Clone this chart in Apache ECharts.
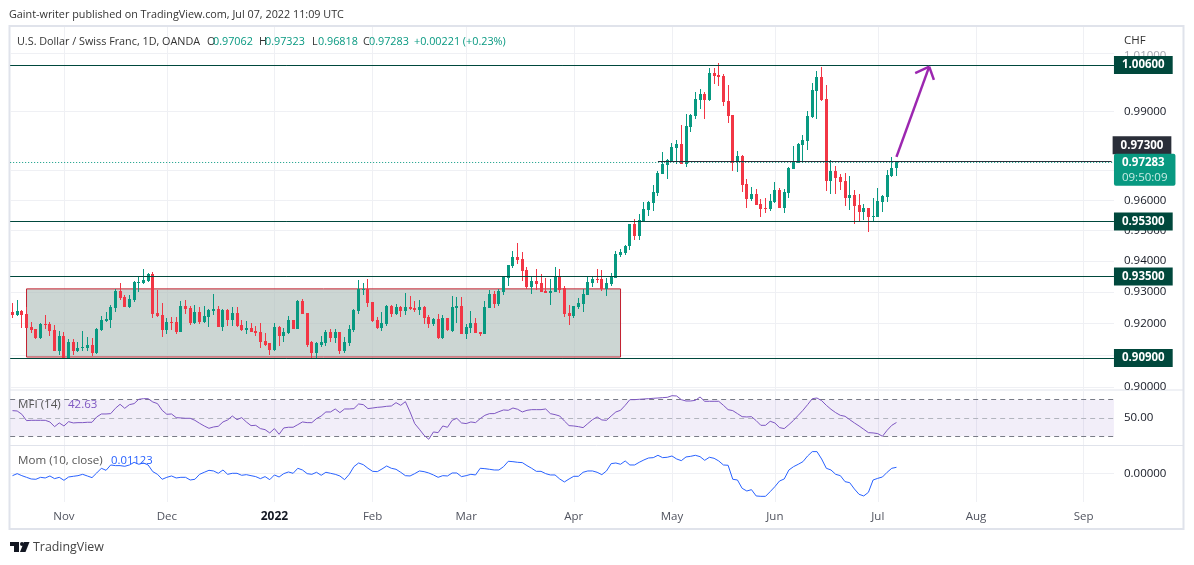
<!DOCTYPE html>
<html>
<head>
<meta charset="utf-8">
<title>USDCHF</title>
<script src="https://cdn.jsdelivr.net/npm/echarts@6/dist/echarts.min.js"></script>
<style>
    html, body {margin: 0; padding: 0; background: #fff;}
    #chart {width: 1194px; height: 565px;}
</style>
</head>
<body>
<div id="chart"></div>
<script>
const FONT = '"Open Sans", sans-serif';
const UP = '#089981', DOWN = '#f23645', LEVEL = '#00483c', GRID = '#eff0f4', FRAME = '#e0e3eb';

// open, close, low, high
let ohlc = [
    [.9236,.9226,.9218,.9264],[.9226,.9239,.9223,.9274],[.9239,.9226,.9184,.9242],[.9229,.9184,.9184,.9251],[.9187,.9178,.9169,.9203],
    [.9181,.9152,.9149,.9183],[.9152,.9197,.9149,.92],[.9197,.9194,.9181,.9226],[.9197,.9174,.9161,.9203],[.9178,.9113,.9113,.9194],
    [.9113,.9158,.91,.9174],[.9158,.9086,.9086,.9171],[.9086,.9142,.9086,.9149],[.9142,.9113,.91,.9149],[.9113,.9123,.911,.9142],
    [.912,.9126,.9113,.9174],[.9123,.9132,.9113,.9155],[.9132,.9107,.9097,.9152],[.9107,.9181,.9103,.9184],[.9178,.921,.9174,.9223],
    [.9207,.9213,.9203,.9236],[.921,.9252,.9184,.9258],[.9249,.9303,.9236,.931],[.9303,.9281,.9274,.9329],[.9284,.9252,.9252,.929],
    [.9252,.9278,.9249,.929],[.9274,.9332,.9268,.9336],[.933,.9332,.93,.9348],[.9329,.9339,.9326,.9374],[.9336,.9358,.9332,.9361],
    [.9358,.9229,.9216,.9365],[.9232,.9223,.9221,.9307],[.9226,.9178,.9155,.9265],[.9178,.9203,.9165,.9216],[.9203,.92,.9178,.9219],
    [.9203,.9171,.9165,.9219],[.9171,.9255,.9171,.9271],[.9255,.9245,.9229,.9274],[.9249,.92,.9194,.9255],[.92,.9236,.9197,.9258],
    [.9236,.9203,.9197,.9252],[.9203,.9223,.92,.9255],[.9219,.9242,.9187,.9245],[.9239,.9245,.9226,.9294],[.9245,.9187,.9187,.9255],
    [.9187,.9242,.9174,.9245],[.9242,.921,.919,.9245],[.921,.9232,.919,.9252],[.9232,.919,.9187,.9252],[.9194,.9178,.9174,.921],
    [.9178,.9184,.9165,.9207],[.9184,.9171,.9171,.92],[.9174,.9168,.9158,.919],[.9171,.9142,.9123,.92],[.9145,.9132,.9129,.9168],
    [.9136,.9116,.91,.9136],[.9116,.9187,.9113,.92],[.9187,.9158,.9129,.919],[.9158,.9171,.9139,.9184],[.9168,.921,.9165,.9223],
    [.921,.9181,.9181,.921],[.9181,.9272,.9181,.9274],[.9272,.9229,.9229,.9278],[.9232,.9132,.9126,.9232],[.9139,.9107,.909,.9145],
    [.9107,.9136,.909,.9139],[.9132,.9139,.9126,.9161],[.9136,.9171,.9129,.9178],[.9171,.9152,.9139,.9181],[.9152,.9171,.9136,.9181],
    [.9171,.9113,.9103,.9171],[.9113,.9139,.9107,.9155],[.9136,.9181,.9129,.9194],[.9178,.9242,.9171,.9245],[.9239,.931,.9229,.9339],
    [.9307,.931,.929,.9329],[.931,.9265,.9252,.9342],[.9268,.9207,.9203,.9268],[.921,.9184,.9181,.9219],[.9184,.92,.9174,.9236],
    [.9197,.9255,.919,.9258],[.9255,.9229,.9219,.9258],[.9229,.9252,.9226,.9261],[.9252,.9239,.9219,.9255],[.9239,.9252,.9226,.9297],
    [.9252,.9245,.9242,.9287],[.9249,.9242,.9236,.9271],[.9242,.9252,.9226,.9274],[.9252,.9216,.9197,.9255],[.9219,.9197,.9184,.9226],
    [.9197,.9213,.919,.9216],[.9213,.9152,.9149,.9229],[.9152,.9216,.9149,.9226],[.9216,.9178,.9174,.9216],[.9174,.9252,.9171,.9287],
    [.9249,.9255,.92,.9284],[.9255,.9165,.9165,.9283],[.9165,.9187,.9149,.9197],[.9184,.92,.9168,.9239],[.92,.9168,.9168,.9216],
    [.9171,.9165,.9161,.9171],[.9165,.9252,.9165,.9271],[.9249,.9294,.9249,.9307],[.9294,.9261,.9249,.9303],[.9261,.9303,.9255,.931],
    [.93,.9348,.929,.9348],[.9345,.9387,.9319,.9387],[.9384,.9413,.9378,.9432],[.9413,.9403,.939,.9458],[.9406,.9368,.9336,.9429],
    [.9371,.9316,.931,.9381],[.9316,.9336,.9294,.9352],[.9336,.9326,.9307,.9374],[.9329,.93,.93,.9358],[.9303,.9297,.9297,.9345],
    [.9297,.9303,.9258,.9342],[.93,.9348,.93,.9381],[.9348,.9307,.9297,.9374],[.9313,.9229,.9219,.9319],[.9232,.9223,.9194,.9258],
    [.9223,.9255,.9216,.9255],[.9252,.9265,.9245,.9281],[.9261,.9294,.9236,.931],[.929,.9332,.929,.9348],[.9329,.9342,.9316,.9348],
    [.9342,.9339,.9329,.9374],[.9342,.931,.9303,.9371],[.931,.9329,.9287,.9345],[.9326,.9348,.9319,.9361],[.9345,.9423,.9345,.9432],
    [.9419,.9429,.9413,.9439],[.9426,.9448,.9419,.9452],[.9448,.9521,.9436,.9523],[.9521,.9481,.9468,.9538],[.9481,.9535,.9468,.9554],
    [.9531,.9571,.9528,.9594],[.9568,.9594,.9548,.9598],[.9591,.9628,.9564,.9651],[.9624,.9691,.9614,.9698],[.9688,.9721,.9688,.9762],
    [.9718,.9735,.9671,.9738],[.9731,.9779,.9728,.9792],[.9775,.9789,.9721,.9803],[.9789,.9721,.9721,.9854],[.9721,.985,.9711,.9891],
    [.9847,.9888,.983,.9891],[.9884,.9943,.9874,.9967],[.9939,.996,.9908,.9977],[.996,.9939,.9874,.9967],[.9939,1.0032,.9936,1.005],
    [1.0032,1.0022,.9994,1.005],[1.0025,1.0019,.9987,1.0067],[1.0022,.9932,.9918,1.0029],[.9936,.9884,.986,.9991],[.9888,.9724,.9698,.9888],
    [.9728,.9748,.9694,.9765],[.9748,.9651,.9628,.9752],[.9654,.9604,.9574,.9671],[.9604,.9621,.9598,.9644],[.9621,.9584,.9584,.9638],
    [.9588,.9571,.9544,.9604],[.9574,.9571,.9558,.9608],[.9571,.9598,.9564,.9621],[.9594,.9634,.9591,.9661],[.9634,.9574,.9574,.9641],
    [.9574,.9628,.9558,.9638],[.9624,.9708,.9608,.9711],[.9704,.9728,.9704,.9782],[.9724,.9789,.9724,.9792],[.9786,.9803,.9724,.982],
    [.9799,.9884,.9769,.9901],[.9881,.9974,.9877,.9998],[.997,1.0019,.9874,1.0039],[1.0019,.9939,.9936,1.0053],[.9943,.9664,.9631,.9991],
    [.9664,.9698,.9621,.9735],[.9698,.9674,.9621,.9714],[.9678,.9661,.9634,.9688],[.9664,.9608,.9581,.9691],[.9608,.9618,.9568,.9681],
    [.9618,.9581,.9521,.9634],[.9584,.9561,.9528,.9621],[.9561,.9574,.9535,.9588],[.9574,.9544,.9495,.9574],[.9544,.9548,.9531,.9608],
    [.9544,.9598,.9544,.9641],[.9594,.9614,.9561,.9618],[.9611,.9684,.9594,.9701],[.9681,.9708,.9678,.9745],[.97062,.97283,.96818,.97323]
];
let mfi = [
    62.1,61.5,56.1,45.7,46.2,46.2,46.2,46.2,43.5,35.8,41.9,36.9,44,41.9,42.4,42.4,43,43,51.7,56.6,
    56.6,57.2,65.9,72.5,65.9,71.9,73.6,80.7,81.7,81.7,76.3,73.6,62.6,56.1,56.6,50.6,50.1,49.5,49.5,46.2,
    41.3,36.9,33.1,35.3,36.4,43.5,46.8,53.3,47.3,50.6,43.5,37.5,38,32.6,30.9,25.5,32.6,23.3,33.7,34.8,
    34.8,39.1,43.5,42.4,42.4,49,53.3,59.9,59.9,64.8,58.8,64.8,64.8,65.4,73,71.9,65.4,66.4,67.5,68.1,
    69.2,69.7,75.2,70.8,76.8,59.9,40.8,31.5,21.6,15.1,27.1,26,36.9,34.8,46.2,49.5,
    41.9,40.8,43.5,42.4,49,54.4,57.2,57.2,60.4,63.2,62.6,66.4,64.3,59.9,62.6,63.7,63.7,63.7,64.8,57.2,
    55.5,53.3,45.1,37.5,36.9,35.8,34.2,40.8,47.3,51.7,46.8,46.2,53.3,59.9,62.6,70.8,80.1,80.1,80.7,81.2,
    81.7,82.3,82.8,83.4,83.9,86.6,86.1,80.1,77.9,77.9,79,84.5,77.4,77.4,77.4,77.4,70.8,63.7,62.1,57.2,
    52.2,51.7,52.2,45.7,38,38,44.6,41.9,34.2,32.6,39.1,46.2,54.4,62.6,71.9,81.7,82.8,78.5,70.8,64.3,
    58.8,54.4,52.8,47.3,41.9,36.9,31.5,26,25.5,24.4,20,29.8,38,42.63
];
let mom = [
    -.0044,-.0006,-.0044,-.0075,-.0106,-.0112,-.0075,-.0087,-.005,-.01,-.0075,-.0131,-.0069,-.0056,-.0044,-.0019,-.005,-.0081,.0006,.0094,
    .0056,.0156,.0144,.0144,.0131,.0156,.0206,.0169,.0193,.0156,.0031,-.0019,-.0112,-.0075,-.005,-.0087,-.0075,-.0075,-.0125,-.0112,
    -.0019,.0019,.0056,.0044,0,.0062,-.0019,0,0,-.0037,-.0025,-.0044,-.0062,-.01,-.0062,-.0119,-.0031,-.0069,-.0006,.0025,
    0,.0094,.0062,-.0006,-.0019,.0019,-.0037,.0019,0,-.0019,-.005,-.0119,-.0019,.0125,.0193,.0162,.0094,.0037,.0031,.0081,
    .0137,.0094,.0075,.0019,-.0044,-.005,-.0006,.0044,.0031,.0006,-.0031,-.0075,-.0044,-.005,.0006,.0006,
    -.0062,-.0044,-.0019,-.0031,.0094,.0087,.0075,.0062,.0062,.0125,.0225,.0218,.0206,.02,.0144,.0094,.0037,.0037,-.0006,-.0031,
    -.0031,-.0106,-.0162,-.0106,-.0056,-.0056,.0019,.0044,.0044,.0019,-.0025,.0044,.0181,.0193,.0169,.0231,.0156,.0156,.0206,.025,
    .0287,.0293,.0337,.0293,.03,.0324,.0268,.0237,.0306,.0318,.0337,.0312,.0243,.03,.0281,.0231,.0156,.015,-.0112,-.0125,
    -.0281,-.0331,-.0306,-.0424,-.0431,-.0431,-.0343,-.025,-.0144,-.0106,.0062,.0125,.0169,.0218,.0324,.0406,.0406,.0268,.0094,.0062,
    -.0019,-.0044,-.0156,-.0175,-.0293,-.0393,-.0424,-.0356,-.0125,-.0094,-.0069,.0019,.0094,.01123
];

// weekday bars from 15 Oct 2021, the last 46 slots are empty future space
let dates = [];
let monthNames = {};
for (let d = new Date(Date.UTC(2021, 9, 15)), prev = 9; dates.length < 236; d.setUTCDate(d.getUTCDate() + 1)) {
    if (d.getUTCDay() === 0 || d.getUTCDay() === 6) continue;
    let key = d.toISOString().slice(0, 10);
    dates.push(key);
    if (d.getUTCMonth() !== prev) {
        prev = d.getUTCMonth();
        monthNames[key] = prev === 0 ? '2022' : ['', 'Feb', 'Mar', 'Apr', 'May', 'Jun', 'Jul', 'Aug', 'Sep', '', 'Nov', 'Dec'][prev];
    }
}
let monthLines = Object.keys(monthNames).map(function (k) {
    return {xAxis: k};
});
// precision: markLine rounds its values to 2 decimals otherwise
let noMarker = {symbol: 'none', silent: true, animation: false, precision: 5};
let empty = dates.map(function () { return '-'; });

function axisTick(value) {
    let label = {show: true, formatter: value.toFixed(5)};
    if (value === 1.01) { // half hidden behind the 1.00600 flag
        label.color = '#a3a6af';
        label.offset = [0, 2];
    }
    return {yAxis: value, label: label};
}
function flag(value, bg) {
    return {
        yAxis: value,
        lineStyle: {color: LEVEL, width: 1, type: 'solid'},
        label: {
            show: true, position: 'end', distance: 0,
            formatter: value.toFixed(5), color: '#fff', fontWeight: 'bold', fontSize: 11.5, fontFamily: FONT,
            backgroundColor: bg, padding: [3, 8, 3, 8]
        }
    };
}
// crisp 3px body with a centred 1px wick, the built-in candlestick rounds each edge on its own
function drawCandle(params, api) {
    let i = api.value(0), open = api.value(1), close = api.value(2);
    let x = Math.floor(api.coord([i, open])[0]);
    let yOpen = Math.round(api.coord([i, open])[1]);
    let yClose = Math.round(api.coord([i, close])[1]);
    let yLow = Math.round(api.coord([i, api.value(3)])[1]);
    let yHigh = Math.round(api.coord([i, api.value(4)])[1]);
    let color = close >= open ? UP : DOWN;
    return {
        type: 'group',
        children: [
            {type: 'rect', shape: {x: x, y: yHigh, width: 1, height: Math.max(yLow - yHigh, 1)}, style: {fill: color}},
            {type: 'rect', shape: {x: x - 1, y: Math.min(yOpen, yClose), width: 3, height: Math.max(Math.abs(yOpen - yClose), 1)}, style: {fill: color}}
        ]
    };
}

let gridLines = [1.01, .99, .97, .96, .95, .94, .93, .92, .91, .90];
let tickLabels = [1.01, .99, .96, .95, .94, .93, .92, .90];
let arrowStyle = {color: '#9c27b0', width: 2.5, type: 'solid'};

let option = {
    animation: false,
    backgroundColor: '#fff',
    textStyle: {fontFamily: FONT},
    grid: [
        {left: 10.16, width: 1103.8, top: 27, height: 363},
        {left: 10.16, width: 1103.8, top: 391, height: 54},
        {left: 10.16, width: 1103.8, top: 446, height: 56}
    ],
    xAxis: [0, 1, 2].map(function (i) {
        return {
            type: 'category', gridIndex: i, data: dates, boundaryGap: true,
            axisLine: {show: false}, axisTick: {show: false}, splitLine: {show: false},
            axisLabel: i < 2 ? {show: false} : {
                show: true, margin: 9, fontSize: 11.5, fontFamily: FONT, color: '#50535e', hideOverlap: false,
                interval: function (idx, val) { return monthNames[val] !== undefined; },
                formatter: function (val) {
                    return monthNames[val] === '2022' ? '{y|2022}' : monthNames[val];
                },
                rich: {y: {fontWeight: 'bold', color: '#131722', fontSize: 12, fontFamily: FONT}}
            }
        };
    }),
    yAxis: [
        {type: 'log', gridIndex: 0, min: .89899, max: 1.0193, axisLine: {show: false}, axisTick: {show: false}, axisLabel: {show: false}, splitLine: {show: false}, minorSplitLine: {show: false}},
        {type: 'value', gridIndex: 1, min: 5.7, max: 94.3, axisLine: {show: false}, axisTick: {show: false}, axisLabel: {show: false}, splitLine: {show: false}},
        {type: 'value', gridIndex: 2, min: -.0537, max: .0511, axisLine: {show: false}, axisTick: {show: false}, axisLabel: {show: false}, splitLine: {show: false}}
    ],
    series: [
        // grid lines, price scale and the range box
        {
            type: 'line', xAxisIndex: 0, yAxisIndex: 0, data: empty, z: 0, silent: true,
            markLine: Object.assign({}, noMarker, {
                z: 0,
                lineStyle: {color: GRID, width: 1, type: 'solid'},
                label: {show: false, position: 'end', distance: 10, color: '#131722', fontSize: 11.5, fontFamily: FONT},
                data: monthLines.concat(gridLines.map(function (v) {
                    return tickLabels.indexOf(v) >= 0 ? axisTick(v) : {yAxis: v};
                }))
            }),
            markArea: {
                silent: true, z: 1,
                itemStyle: {color: 'rgba(170,186,182,.6)', borderColor: '#c3202f', borderWidth: 1},
                data: [[{xAxis: dates[3], yAxis: .931}, {xAxis: dates[130], yAxis: .9093}]]
            }
        },
        {
            type: 'custom', name: 'USDCHF', xAxisIndex: 0, yAxisIndex: 0, z: 2, silent: true, clip: false,
            data: ohlc.map(function (v, i) { return [i].concat(v); }),
            encode: {x: 0, y: [1, 2, 3, 4]},
            renderItem: drawCandle
        },
        // levels and flags
        {
            type: 'line', xAxisIndex: 0, yAxisIndex: 0, data: empty, z: 5, silent: true,
            markLine: Object.assign({}, noMarker, {
                z: 5,
                data: [
                    flag(1.006, LEVEL),
                    flag(.953, LEVEL),
                    flag(.935, LEVEL),
                    flag(.909, LEVEL),
                    // support/resistance drawn from late April only
                    [
                        {
                            coord: [dates[138], .973], lineStyle: {color: '#2a2e39', width: 1, type: 'solid'},
                            label: {
                                show: true, position: 'end', distance: 1, offset: [0, -16], formatter: '0.97300', color: '#fff',
                                fontWeight: 'bold', fontSize: 11.5, fontFamily: FONT, backgroundColor: '#2a2e39', padding: [3, 8, 3, 8]
                            }
                        },
                        {coord: [dates[235], .973]}
                    ],
                    // last price
                    {
                        yAxis: .97283,
                        lineStyle: {color: UP, width: 1, type: [1, 2]},
                        label: {
                            show: true, position: 'end', distance: 0, offset: [0, 8], backgroundColor: UP, borderRadius: 2,
                            padding: [1, 8, 1, 8], lineHeight: 15,
                            formatter: '{a|0.97283}\n{b|09:50:09}',
                            rich: {
                                a: {color: '#fff', fontWeight: 'bold', fontSize: 11.5, fontFamily: FONT, lineHeight: 15},
                                b: {color: '#c8ece5', fontSize: 11.5, fontFamily: FONT, lineHeight: 15}
                            }
                        }
                    },
                    // target arrow
                    [
                        {coord: [dates[189], .9745], lineStyle: arrowStyle, label: {show: false}},
                        {coord: [dates[196], 1.0054]}
                    ],
                    [
                        {coord: [dates[193], 1.0032], lineStyle: arrowStyle, label: {show: false}},
                        {coord: [dates[196], 1.0054]}
                    ],
                    [
                        {coord: [dates[197], 1.0008], lineStyle: arrowStyle, label: {show: false}},
                        {coord: [dates[196], 1.0054]}
                    ]
                ]
            })
        },
        // MFI pane
        {
            type: 'line', xAxisIndex: 1, yAxisIndex: 1, data: empty, z: 0, silent: true,
            markLine: Object.assign({}, noMarker, {
                z: 0, label: {show: false},
                lineStyle: {color: GRID, width: 1, type: 'solid'},
                data: monthLines
            })
        },
        {
            type: 'line', name: 'MFI', xAxisIndex: 1, yAxisIndex: 1, data: mfi, showSymbol: false, silent: true, z: 3,
            lineStyle: {color: '#7e57c2', width: 1},
            markArea: {
                silent: true, z: 1,
                itemStyle: {color: 'rgba(126,87,194,.1)'},
                data: [[{yAxis: 80}, {yAxis: 20}]]
            },
            markLine: Object.assign({}, noMarker, {
                z: 2,
                lineStyle: {color: '#787b86', width: 1, type: [5, 4]},
                label: {show: false, position: 'end', distance: 10, color: '#131722', fontSize: 11.5, fontFamily: FONT},
                data: [
                    {yAxis: 80},
                    {yAxis: 50, lineStyle: {color: '#b2b5be', width: 1, type: [5, 4]}, label: {show: true, formatter: '50.00'}},
                    {yAxis: 20}
                ]
            })
        },
        // Momentum pane
        {
            type: 'line', name: 'Mom', xAxisIndex: 2, yAxisIndex: 2, data: mom, showSymbol: false, silent: true, z: 3,
            lineStyle: {color: '#2962ff', width: 1},
            markLine: Object.assign({}, noMarker, {
                z: 0,
                lineStyle: {color: GRID, width: 1, type: 'solid'},
                label: {show: false, position: 'end', distance: 10, color: '#131722', fontSize: 11.5, fontFamily: FONT},
                data: monthLines.concat([{yAxis: 0, label: {show: true, formatter: '0.00000'}}])
            })
        }
    ],
    graphic: {
        elements: [
            {type: 'rect', silent: true, z: -1, shape: {x: 9.5, y: 26, width: 1174, height: 503}, style: {fill: 'none', stroke: FRAME, lineWidth: 2}},
            {type: 'line', silent: true, z: -1, shape: {x1: 10, y1: 390, x2: 1183, y2: 390}, style: {stroke: FRAME, lineWidth: 1}},
            {type: 'line', silent: true, z: -1, shape: {x1: 10, y1: 445.5, x2: 1183, y2: 445.5}, style: {stroke: FRAME, lineWidth: 1}}
        ].concat([
            ['Gaint-writer published on TradingView.com, Jul 07, 2022 11:09 UTC', 9, 14.5, '#333', 10.8],
            ['U.S. Dollar / Swiss Franc, 1D, OANDA', 17, 42, '#333', 10.8],
            ['O', 207, 42, '#333', 10.8], ['0.97062', 213, 42, UP, 10.8],
            ['H', 259, 42, '#333', 10.8], ['0.97323', 265, 42, UP, 10.8],
            ['L', 312, 42, '#333', 10.8], ['0.96818', 318, 42, UP, 10.8],
            ['C', 363, 42, '#333', 10.8], ['0.97283', 369, 42, UP, 10.8],
            ['+0.00221 (+0.23%)', 414, 42, UP, 10.8],
            ['CHF', 1124, 41, '#333', 11.5],
            ['MFI (14)', 18, 405, '#555', 11.6], ['42.63', 68, 405, '#7e57c2', 11.5],
            ['Mom (10, close)', 18, 461, '#555', 11.6], ['0.01123', 111, 461, '#2962ff', 11.3]
        ].map(function (t) {
            return {
                type: 'text', silent: true, z: 10,
                style: {text: t[0], x: t[1], y: t[2], fill: t[3], font: t[4] + 'px ' + FONT, verticalAlign: 'middle'}
            };
        })).concat([
            // TradingView logo
            {type: 'polygon', silent: true, z: 10, shape: {points: [[10, 542], [19, 542], [19, 552], [14, 552], [14, 546], [10, 546]]}, style: {fill: '#131722'}},
            {type: 'circle', silent: true, z: 10, shape: {cx: 22, cy: 544, r: 2}, style: {fill: '#131722'}},
            {type: 'polygon', silent: true, z: 10, shape: {points: [[29.5, 542], [25.5, 552], [20, 552], [24, 542]]}, style: {fill: '#131722'}},
            {type: 'text', silent: true, z: 10, style: {text: 'TradingView', x: 33, y: 547.5, fill: '#444', font: '12.4px ' + FONT, verticalAlign: 'middle'}}
        ])
    }
};

let myChart = echarts.init(document.getElementById('chart'), null, {renderer: 'canvas'});
myChart.setOption(option);
</script>
</body>
</html>
